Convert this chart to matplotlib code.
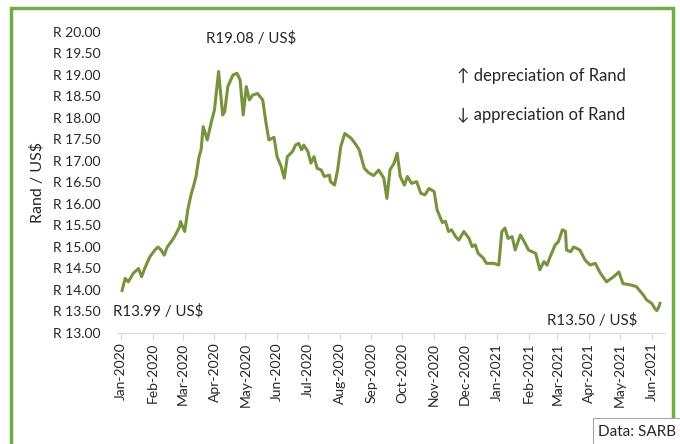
import numpy as np
import pandas as pd
import matplotlib
matplotlib.use('Agg')
import matplotlib.pyplot as plt
import matplotlib.dates as mdates
from matplotlib.patches import Rectangle

plt.rcParams['font.family'] = ['Lato', 'DejaVu Sans']

# Rand per US$
dates = ['2020-01-02', '2020-01-05', '2020-01-08', '2020-01-13', '2020-01-18', '2020-01-21',
         '2020-01-24', '2020-01-29', '2020-02-03', '2020-02-06', '2020-02-09', '2020-02-12',
         '2020-02-15', '2020-02-20', '2020-02-23', '2020-02-27', '2020-02-28', '2020-03-03',
         '2020-03-06', '2020-03-09', '2020-03-12', '2020-03-14', '2020-03-17', '2020-03-19',
         '2020-03-21', '2020-03-25', '2020-03-29', '2020-04-01', '2020-04-05', '2020-04-09',
         '2020-04-11', '2020-04-14', '2020-04-19', '2020-04-23', '2020-04-26', '2020-04-29',
         '2020-05-02', '2020-05-05', '2020-05-08', '2020-05-13', '2020-05-18', '2020-05-21',
         '2020-05-24', '2020-05-29', '2020-06-01', '2020-06-05', '2020-06-08', '2020-06-11',
         '2020-06-16', '2020-06-19', '2020-06-22', '2020-06-25', '2020-06-27', '2020-07-01',
         '2020-07-04', '2020-07-07', '2020-07-10', '2020-07-14', '2020-07-17', '2020-07-22',
         '2020-07-23', '2020-07-27', '2020-07-30', '2020-08-02', '2020-08-06', '2020-08-12',
         '2020-08-16', '2020-08-20', '2020-08-25', '2020-08-29', '2020-09-03', '2020-09-08',
         '2020-09-13', '2020-09-16', '2020-09-19', '2020-09-23', '2020-09-26', '2020-09-29',
         '2020-10-03', '2020-10-06', '2020-10-10', '2020-10-15', '2020-10-19', '2020-10-23',
         '2020-10-27', '2020-11-01', '2020-11-04', '2020-11-09', '2020-11-12', '2020-11-15',
         '2020-11-18', '2020-11-22', '2020-11-25', '2020-11-30', '2020-12-05', '2020-12-08',
         '2020-12-11', '2020-12-14', '2020-12-19', '2020-12-22', '2020-12-29', '2021-01-03',
         '2021-01-06', '2021-01-09', '2021-01-12', '2021-01-16', '2021-01-19', '2021-01-24',
         '2021-01-27', '2021-02-01', '2021-02-08', '2021-02-12', '2021-02-16', '2021-02-19',
         '2021-02-22', '2021-02-27', '2021-03-02', '2021-03-06', '2021-03-09', '2021-03-10',
         '2021-03-14', '2021-03-17', '2021-03-23', '2021-03-28', '2021-04-02', '2021-04-07',
         '2021-04-12', '2021-04-18', '2021-04-25', '2021-04-30', '2021-05-04', '2021-05-11',
         '2021-05-17', '2021-05-24', '2021-05-27', '2021-06-01', '2021-06-04', '2021-06-06',
         '2021-06-08', '2021-06-09']
rand_usd = [13.99, 14.27, 14.19, 14.39, 14.50, 14.31,
            14.50, 14.77, 14.93, 15.00, 14.93, 14.81,
            15.00, 15.16, 15.28, 15.47, 15.59, 15.36,
            15.86, 16.20, 16.45, 16.64, 17.10, 17.26,
            17.80, 17.49, 17.91, 18.19, 19.08, 18.07,
            18.15, 18.73, 19.00, 19.04, 18.88, 18.07,
            18.73, 18.42, 18.53, 18.57, 18.42, 17.92,
            17.49, 17.55, 17.10, 16.87, 16.60, 17.10,
            17.22, 17.37, 17.41, 17.26, 17.37, 17.22,
            16.95, 17.10, 16.83, 16.79, 16.64, 16.67,
            16.52, 16.44, 16.79, 17.33, 17.64, 17.53,
            17.41, 17.26, 16.83, 16.73, 16.66, 16.79,
            16.60, 16.13, 16.79, 16.95, 17.18, 16.64,
            16.44, 16.64, 16.48, 16.52, 16.25, 16.21,
            16.36, 16.29, 15.86, 15.57, 15.60, 15.36,
            15.40, 15.24, 15.16, 15.36, 15.20, 15.01,
            15.05, 14.85, 14.74, 14.62, 14.62, 14.58,
            15.36, 15.44, 15.20, 15.24, 14.93, 15.28,
            15.16, 14.93, 14.85, 14.47, 14.66, 14.58,
            14.77, 15.05, 15.12, 15.40, 15.36, 14.93,
            14.89, 15.00, 14.93, 14.70, 14.58, 14.62,
            14.39, 14.19, 14.31, 14.42, 14.15, 14.12,
            14.08, 13.88, 13.77, 13.69, 13.57, 13.52,
            13.61, 13.69]

yticks = np.arange(13.0, 20.01, 0.5)
months = pd.date_range('2020-01-01', '2021-06-01', freq='MS')

x = pd.to_datetime(dates)

fig = plt.figure(figsize=(6.8, 4.44), dpi=100)
ax = fig.add_axes([0.172, 0.25, 0.806, 0.678])

ax.plot(x, rand_usd, color='#77933C', lw=2.2, solid_joinstyle='round')

ax.set_ylim(13.0, 20.0)
ax.set_yticks(yticks)
ax.set_yticklabels(['R {:.2f}'.format(v) for v in yticks])
ax.set_xlim(pd.Timestamp('2019-12-28'), pd.Timestamp('2021-06-14'))
ax.set_xticks(months)
ax.xaxis.set_major_formatter(mdates.DateFormatter('%b-%Y'))
for lab in ax.get_xticklabels():
    lab.set_rotation(90)

for s in ['top', 'right', 'left']:
    ax.spines[s].set_visible(False)
ax.spines['bottom'].set_color('#D9D9D9')
ax.tick_params(axis='y', length=0, labelsize=10, colors='#262626', pad=12)
ax.tick_params(axis='x', length=5, color='#D9D9D9', labelsize=10, labelcolor='#262626', pad=2)
ax.set_ylabel('Rand / US$', fontsize=11.5, color='#262626', labelpad=6)

tcol = '#262626'
ax.text(0.163, 0.978, 'R19.08 / US$', transform=ax.transAxes, fontsize=10.8, color=tcol, ha='left', va='center')
ax.text(0.62, 0.853, '\u2191 depreciation of Rand', transform=ax.transAxes, fontsize=12, color=tcol, ha='left', va='center')
ax.text(0.62, 0.723, '\u2193 appreciation of Rand', transform=ax.transAxes, fontsize=12, color=tcol, ha='left', va='center')
ax.text(-0.007, 0.072, 'R13.99 / US$', transform=ax.transAxes, fontsize=10.8, color=tcol, ha='left', va='center')
ax.text(0.785, 0.042, 'R13.50 / US$', transform=ax.transAxes, fontsize=10.8, color=tcol, ha='left', va='center')

# green frame around the chart
fig.patches.append(Rectangle((11 / 680, -0.05), (673 - 11) / 680, 1 - 8.5 / 444 + 0.05,
                             transform=fig.transFigure, fill=False, ec='#70AD47', lw=2.5))

# source box
fig.patches.append(Rectangle((593 / 680, -0.02), 0.2, (444 - 418) / 444 + 0.02,
                             transform=fig.transFigure, fc='white', ec='#A6A6A6', lw=0.8))
fig.text(598 / 680, 1 - 432 / 444, 'Data: SARB', fontsize=11, color=tcol, ha='left', va='center')

fig.savefig('out.png', dpi=100)
